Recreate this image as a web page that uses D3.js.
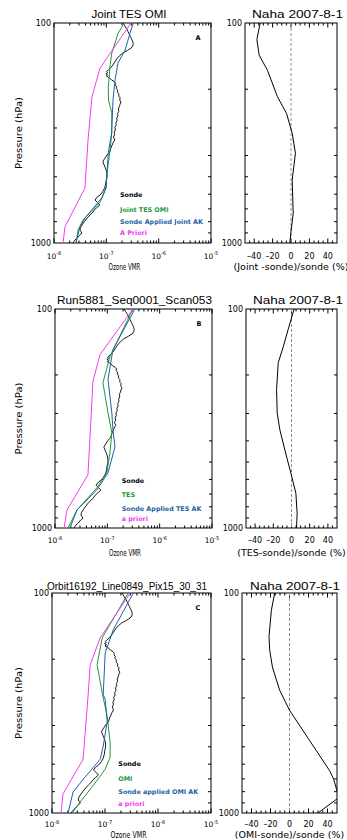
<!DOCTYPE html>
<html><head><meta charset="utf-8">
<script src="https://cdn.jsdelivr.net/npm/d3@7"></script>
<style>body{margin:0;background:#fff}svg{display:block}text{font-family:"DejaVu Sans",sans-serif}</style>
</head><body><svg id="c" width="347" height="840"></svg>
<script>
// ---------------- data ----------------
const pressureTicks=[200,300,400,500,600,700,800,900];
const pressureLabels=[100,1000];
const vmrDecades=[1e-8,1e-7,1e-6,1e-5];
const vmrExponents=["-8","-7","-6","-5"];
const diffTicks=[-40,-20,0,20,40];
const diffTickLabels=["\u201340","\u201320","0","20","40"];
const titles=["Joint TES OMI","Run5881_Seq0001_Scan053","Orbit16192_Line0849_Pix15_30_31"];
const siteTitle="Naha 2007-8-1";
const panelLetters=["A","B","C"];
const legendLabels=[
  ["Sonde","Joint TES OMI","Sonde Applied Joint AK","A Priori"],
  ["Sonde","TES","Sonde Applied TES AK","a priori"],
  ["Sonde","OMI","Sonde applied OMI AK","a priori"]];
const diffLabels=["(Joint -sonde)/sonde (%)","(TES-sonde)/sonde (%)","(OMI-sonde)/sonde (%)"];
const xLabel="Ozone VMR", yLabel="Pressure (hPa)";

// sonde ozone profile [hPa, VMR]
const sonde=[[100,2.08e-7],[103,2.25e-7],[106,2.42e-7],[109,2.58e-7],[112,2.72e-7],[115,2.88e-7],[118,3.02e-7],[121,3.18e-7],[124,3.26e-7],[127,3.2e-7],[130,2.98e-7],[133,2.55e-7],[137,2.05e-7],[141,1.78e-7],[145,1.6e-7],[150,1.46e-7],[155,1.34e-7],[160,1.2e-7],[164,1.08e-7],[166,1.01e-7],[168,1.06e-7],[170,0.98e-7],[172,1.06e-7],[174,1.0e-7],[177,1.13e-7],[181,1.25e-7],[185,1.42e-7],[188,1.5e-7],[191,1.47e-7],[194,1.57e-7],[198,1.54e-7],[202,1.65e-7],[206,1.62e-7],[210,1.74e-7],[215,1.72e-7],[219,1.84e-7],[224,1.8e-7],[229,1.9e-7],[234,1.83e-7],[240,1.77e-7],[246,1.7e-7],[252,1.73e-7],[258,1.64e-7],[264,1.67e-7],[270,1.58e-7],[277,1.61e-7],[284,1.52e-7],[291,1.55e-7],[298,1.46e-7],[306,1.49e-7],[314,1.41e-7],[322,1.44e-7],[330,1.37e-7],[340,1.45e-7],[350,1.35e-7],[359,1.29e-7],[370,1.22e-7],[386,1.16e-7],[398,1.03e-7],[410,0.95e-7],[420,0.89e-7],[428,0.86e-7],[440,0.9e-7],[451,0.94e-7],[465,0.99e-7],[480,1.02e-7],[501,1.03e-7],[520,0.99e-7],[540,0.97e-7],[562,0.93e-7],[585,0.85e-7],[605,0.76e-7],[620,0.66e-7],[638,0.61e-7],[655,0.68e-7],[672,0.75e-7],[690,0.66e-7],[710,0.58e-7],[723,0.56e-7],[745,0.49e-7],[770,0.43e-7],[800,0.38e-7],[828,0.343e-7],[850,0.32e-7],[873,0.314e-7],[890,0.33e-7],[902,0.343e-7],[920,0.31e-7],[940,0.288e-7],[955,0.27e-7],[969,0.252e-7],[985,0.24e-7],[1000,0.231e-7]];

// Panel A: Joint TES/OMI
const jointRetrieval=[[100,2.21e-7],[111,1.69e-7],[137,1.27e-7],[155,1.18e-7],[197,1.09e-7],[224,1.1e-7],[256,1.27e-7],[316,1.27e-7],[378,1.18e-7],[481,1.03e-7],[562,9.9e-8],[652,7.6e-8],[786,3.58e-8],[873,2.88e-8],[1000,2.64e-8]];
const jointSondeAK=[[100,3.28e-7],[111,2.84e-7],[133,2.28e-7],[152,1.67e-7],[181,1.47e-7],[224,1.34e-7],[316,1.26e-7],[390,1.09e-7],[562,9.9e-8],[624,8.17e-8],[708,5.26e-8],[770,3.92e-8],[845,3.14e-8],[940,2.79e-8],[1000,2.64e-8]];
const jointApriori=[[100,2.96e-7],[160,7.6e-8],[217,5.3e-8],[340,4.47e-8],[562,3.9e-8],[845,1.62e-8],[1000,1.49e-8]];
const jointDiff=[[100,-33.5],[119,-37.1],[140,-34.6],[164,-25.6],[216,-14.8],[258,-4.8],[317,1.3],[391,4.8],[518,1.3],[733,2.4],[873,0.2],[1000,-1.3]];

// Panel B: TES
const tesRetrieval=[[100,3.08e-7],[165,1.12e-7],[217,8.24e-8],[298,1.03e-7],[367,1.22e-7],[454,1.12e-7],[560,9.8e-8],[656,6.3e-8],[828,2.63e-8],[1000,1.77e-8]];
const tesSondeAK=[[100,3.37e-7],[153,1.28e-7],[210,1.03e-7],[298,1.22e-7],[356,1.28e-7],[426,1.4e-7],[560,1.03e-7],[670,6.3e-8],[828,2.63e-8],[1000,1.93e-8]];
const tesApriori=[[100,3.08e-7],[162,7.2e-8],[215,5.3e-8],[320,4.86e-8],[572,4.26e-8],[828,1.69e-8],[1000,1.49e-8]];
const tesDiff=[[100,2.9],[124,-3.7],[149,-9.1],[176,-14.6],[233,-16.4],[299,-15.7],[356,-12.8],[440,-7.3],[562,-0.7],[693,4.8],[857,6.2],[1000,5.5]];

// Panel C: OMI
const omiRetrieval=[[100,2.75e-7],[160,8.85e-8],[212,7.1e-8],[290,9.0e-8],[364,1.1e-7],[477,1.25e-7],[558,1.25e-7],[632,1.01e-7],[681,8.1e-8],[837,4.2e-8],[891,3.39e-8],[1000,2.39e-8]];
const omiSondeAK=[[100,3.42e-7],[147,1.43e-7],[187,1.01e-7],[290,9.25e-8],[305,1.01e-7],[384,1.1e-7],[497,9.25e-8],[570,8.1e-8],[702,3.9e-8],[803,2.5e-8],[1000,2.01e-8]];
const omiApriori=[[100,3.0e-7],[160,8.1e-8],[212,5.25e-8],[290,4.81e-8],[570,3.86e-8],[820,1.61e-8],[1000,1.48e-8]];
const omiDiff=[[100,-15.6],[120,-19.1],[158,-21.6],[182,-20.8],[217,-18],[277,-10.3],[342,0.2],[422,14.2],[521,28.3],[643,42.3],[702,46.5],[850,52],[1000,30]];

const retrievals=[jointRetrieval,tesRetrieval,omiRetrieval];
const sondeAKs=[jointSondeAK,tesSondeAK,omiSondeAK];
const aprioris=[jointApriori,tesApriori,omiApriori];
const diffs=[jointDiff,tesDiff,omiDiff];

// ---------------- layout ----------------
const colors={sonde:"#000000",ret:"#1c9a3c",ak:"#1f62a6",ap:"#f23cee"};
const titleFont="'Liberation Sans',Arial,sans-serif";
const layouts=[
 {lx0:54,lx1:211,y0:23,y1:243,rx0:245,rx1:337,tY:17.5,tS:11.5,tW:75,tCx:129,sW:91,sCx:297.5,tickY:258.5,labY:270,ozW:32,ozCx:124.5,legX:120,legY:[196.5,212,224.3,235],let:[198,40]},
 {lx0:55,lx1:212,y0:309,y1:528,rx0:246,rx1:337,tY:304,tS:11.8,tW:155,tCx:134.5,sW:90,sCx:298,tickY:543,labY:555.5,ozW:32,ozCx:125,legX:121.7,legY:[482.5,497,510.5,521],let:[199,326]},
 {lx0:52,lx1:211,y0:593,y1:813,rx0:242,rx1:337,tY:589.5,tS:10,tW:160,tCx:127,sW:90,sCx:295,tickY:827,labY:837.5,ozW:36,ozCx:128.5,legX:118.3,legY:[766,781,794,806],let:[198,610]}
];

const svg=d3.select("#c");

function txt(g,x,y,s,size,anchor,opts={}){
  const t=g.append("text").attr("x",x).attr("y",y).attr("font-size",size).attr("text-anchor",anchor||"start").attr("fill",opts.fill||"#000").text(s);
  if(opts.len){t.attr("textLength",opts.len).attr("lengthAdjust","spacingAndGlyphs");}
  if(opts.bold)t.attr("font-weight","bold");
  if(opts.family)t.style("font-family",opts.family);
  return t;
}

layouts.forEach((L,i)=>{
  const g=svg.append("g");
  const x=d3.scaleLog().domain([1e-8,1e-5]).range([L.lx0,L.lx1]);
  const y=d3.scaleLog().domain([100,1000]).range([L.y0,L.y1]);
  const xr=d3.scaleLinear().domain([-50,50]).range([L.rx0,L.rx1]);

  const cl="clipL"+i, cr="clipR"+i;
  const defs=svg.append("defs");
  defs.append("clipPath").attr("id",cl).append("rect").attr("x",L.lx0).attr("y",L.y0).attr("width",L.lx1-L.lx0).attr("height",L.y1-L.y0);
  defs.append("clipPath").attr("id",cr).append("rect").attr("x",L.rx0).attr("y",L.y0).attr("width",L.rx1-L.rx0).attr("height",L.y1-L.y0);

  const tick=(x1,y1,x2,y2)=>g.append("line").attr("x1",x1).attr("y1",y1).attr("x2",x2).attr("y2",y2).attr("stroke","#000").attr("stroke-width",1);

  const minors=[];
  vmrDecades.slice(0,3).forEach(d=>{for(let k=2;k<=9;k++)minors.push(d*k);});
  vmrDecades.forEach(d=>{tick(x(d),L.y1,x(d),L.y1-4.5);tick(x(d),L.y0,x(d),L.y0+4.5);});
  minors.forEach(d=>{tick(x(d),L.y1,x(d),L.y1-2.5);tick(x(d),L.y0,x(d),L.y0+2.5);});
  pressureTicks.forEach(p=>{tick(L.lx0,y(p),L.lx0+3,y(p));tick(L.lx1,y(p),L.lx1-3,y(p));});
  const rMinor=d3.range(-45,50,5).filter(v=>v%20!==0);
  diffTicks.forEach(v=>{tick(xr(v),L.y1,xr(v),L.y1-4.5);tick(xr(v),L.y0,xr(v),L.y0+4.5);});
  rMinor.forEach(v=>{tick(xr(v),L.y1,xr(v),L.y1-2.5);tick(xr(v),L.y0,xr(v),L.y0+2.5);});
  pressureTicks.forEach(p=>{tick(L.rx0,y(p),L.rx0+3,y(p));tick(L.rx1,y(p),L.rx1-3,y(p));});

  g.append("rect").attr("x",L.lx0).attr("y",L.y0).attr("width",L.lx1-L.lx0).attr("height",L.y1-L.y0).attr("fill","none").attr("stroke","#000");
  g.append("rect").attr("x",L.rx0).attr("y",L.y0).attr("width",L.rx1-L.rx0).attr("height",L.y1-L.y0).attr("fill","none").attr("stroke","#000");

  pressureLabels.forEach(p=>{
    txt(g,L.lx0-3,y(p)+3,String(p),8,"end");
    txt(g,L.rx0-3,y(p)+3,String(p),8,"end");
  });
  vmrDecades.forEach((d,k)=>{
    const t=g.append("text").attr("x",x(d)).attr("y",L.tickY).attr("font-size",7.5).attr("text-anchor","middle");
    t.append("tspan").text("10");
    t.append("tspan").attr("dy",-3.5).attr("font-size",5).text(vmrExponents[k]);
  });
  diffTicks.forEach((v,k)=>txt(g,xr(v),L.tickY,diffTickLabels[k],8,"middle"));

  txt(g,L.ozCx,L.labY,xLabel,8,"middle",{len:L.ozW});
  txt(g,(L.rx0+L.rx1)/2,L.labY,diffLabels[i],9.5,"middle");
  g.append("text").attr("transform",`translate(21.5,${(L.y0+L.y1)/2}) rotate(-90)`).attr("font-size",8.5).attr("text-anchor","middle")
    .attr("textLength",72).attr("lengthAdjust","spacingAndGlyphs").text(yLabel);

  txt(g,L.tCx,L.tY,titles[i],L.tS,"middle",{len:L.tW,family:titleFont});
  txt(g,L.sCx,L.tY,siteTitle,11.5,"middle",{len:L.sW,family:titleFont});

  g.append("line").attr("x1",xr(0)).attr("x2",xr(0)).attr("y1",L.y0).attr("y2",L.y1)
    .attr("stroke","#8c8c8c").attr("stroke-width",1).attr("stroke-dasharray","3,2");

  const line=d3.line().x(d=>x(d[1])).y(d=>y(d[0]));
  const lines=[[sonde,colors.sonde,0.9],[retrievals[i],colors.ret,1],[sondeAKs[i],colors.ak,1],[aprioris[i],colors.ap,1]];
  lines.forEach(([data,c,w])=>{
    g.append("path").attr("d",line(data)).attr("fill","none").attr("stroke",c).attr("stroke-width",w).attr("clip-path",`url(#${cl})`);
  });
  const dline=d3.line().x(d=>xr(d[1])).y(d=>y(d[0]));
  g.append("path").attr("d",dline(diffs[i])).attr("fill","none").attr("stroke","#000").attr("stroke-width",1).attr("clip-path",`url(#${cr})`);

  const legColors=[colors.sonde,colors.ret,colors.ak,colors.ap];
  legendLabels[i].forEach((s,k)=>txt(g,L.legX,L.legY[k],s,6.4,"start",{fill:legColors[k],bold:true}));
  txt(g,L.let[0],L.let[1],panelLetters[i],6.5,"middle",{bold:true});
});
</script></body></html>
